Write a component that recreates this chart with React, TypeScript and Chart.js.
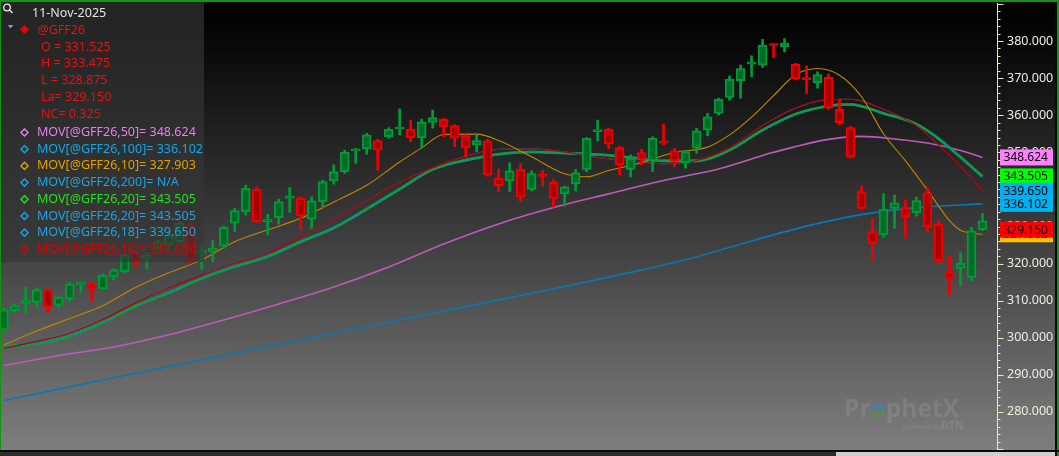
import React, { useEffect, useRef } from 'react';
import { Chart, registerables } from 'chart.js';
Chart.register(...registerables);

// ---- candle data (one per session, oldest first) ----
const opens = [302.1,307.3,309.3,309.5,312.9,308.8,310.4,314.4,314.7,313.2,316.5,317.8,323.0,321.4,324.1,325.0,325.9,330.4,323.0,323.2,324.7,330.9,334.0,340.1,331.3,332.4,337.6,337.6,332.0,336.7,342.3,344.8,350.4,350.9,353.2,354.2,356.3,356.3,353.9,358.1,358.9,357.2,354.5,352.0,353.1,343.0,342.3,345.4,340.0,343.8,341.9,338.8,341.5,345.4,355.6,356.2,351.3,345.4,349.9,347.7,352.7,350.4,347.2,351.1,356.0,360.5,364.8,369.3,373.8,373.5,379.0,378.5,373.8,370.0,368.8,370.2,361.6,356.7,339.4,328.6,327.7,334.9,335.1,333.7,339.1,330.7,317.8,318.7,316.3,331.525];
const highs = [308.0,309.1,313.6,313.3,313.1,311.3,314.9,314.7,314.9,317.2,318.6,322.7,323.5,323.0,326.3,328.0,331.3,330.9,325.0,326.2,330.1,334.9,341.2,340.7,333.3,337.4,340.5,338.0,338.0,342.5,346.6,350.6,351.1,355.1,353.5,356.7,361.7,358.7,359.0,361.4,359.2,357.5,354.8,354.7,353.5,345.5,347.2,347.0,345.0,345.0,342.7,340.9,345.4,354.0,358.7,356.5,351.6,349.3,350.8,354.2,357.6,351.1,350.4,356.5,360.5,364.6,370.6,373.5,376.0,380.5,379.4,380.7,374.0,373.3,371.7,371.1,364.3,357.0,340.9,332.2,338.9,338.5,337.1,337.9,340.3,331.6,322.0,322.9,329.7,333.475];
const lows = [301.5,306.8,306.6,308.4,306.8,308.0,310.0,312.2,310.0,313.1,315.6,317.5,319.0,318.7,323.6,324.5,325.5,320.2,318.5,320.5,324.1,328.6,333.1,331.1,327.7,330.6,333.8,329.1,329.5,335.1,341.4,344.3,347.0,349.5,345.2,353.8,354.7,352.9,351.2,356.5,354.2,351.5,348.8,350.2,343.6,339.4,339.4,336.7,339.6,340.9,335.2,335.5,339.6,344.8,353.1,351.0,343.9,343.4,346.6,344.8,352.0,346.1,345.7,349.7,354.4,360.0,364.1,364.6,370.4,372.9,375.6,377.1,369.5,365.9,367.3,361.6,357.4,348.5,334.6,320.8,327.1,329.5,327.1,332.8,328.6,320.2,311.5,314.0,315.4,328.875];
const closes = [307.5,308.6,310.2,312.9,308.4,310.9,314.5,314.6,313.1,316.8,318.3,322.3,320.5,322.3,325.9,327.7,330.9,321.0,323.5,324.1,329.8,334.3,340.3,331.3,331.6,336.7,337.9,332.9,336.9,342.1,344.8,350.0,350.8,354.7,350.6,356.2,356.7,353.9,358.2,359.4,356.9,353.8,351.2,353.2,343.9,341.0,345.0,337.9,344.3,343.5,337.6,340.7,344.5,353.8,356.0,352.2,346.6,348.4,348.1,353.8,352.5,347.7,350.2,355.8,359.6,364.3,369.7,372.6,374.2,378.9,378.8,379.4,369.8,369.6,371.0,361.9,358.0,348.8,334.9,325.5,334.6,336.4,332.6,337.0,329.9,320.8,316.0,320.1,328.825,329.15];

// ---- moving averages, read at sample sessions ----
const ma10Idx = [0,3,6,9,12,15,18,21,24,27,30,33,36,38,40,43,45,48,51,53,55,58,61,64,66,68,70,72,74,76,78,80,82,84,86,87,88,89];
const ma10Val = [298.1,301.8,305.2,308.6,313.6,317.5,321.0,325.9,329.1,332.2,336.6,341.1,347.4,351.2,354.8,354.9,353.2,348.8,344.2,343.4,345.1,347.2,350.0,351.4,354.7,359.5,365.3,370.9,372.6,370.8,365.0,355.0,347.7,339.8,331.6,329.0,328.2,327.903];
const ma18Idx = [0,3,6,9,12,15,18,21,24,27,30,33,36,39,42,45,48,51,54,57,60,63,66,69,72,75,77,80,83,85,87,89];
const ma18Val = [297.1,299.0,301.2,304.9,309.4,313.4,316.9,320.1,322.8,327.2,332.0,337.0,341.9,345.8,348.9,350.8,350.9,350.1,348.6,347.7,346.9,347.8,351.2,357.2,361.9,364.2,364.3,361.6,357.2,352.0,346.2,339.65];
const ma20Idx = [0,3,6,9,12,15,18,21,24,27,30,33,36,39,42,45,48,51,54,57,60,63,66,69,72,75,77,80,83,85,87,89];
const ma20Val = [297.7,298.3,300.5,304.1,308.6,312.1,316.0,319.2,321.9,325.9,329.6,334.7,340.1,345.4,347.9,349.5,350.1,349.8,349.4,348.6,347.7,347.7,350.6,356.0,360.3,362.5,362.9,360.5,357.6,353.7,348.7,343.505];
const ma50Idx = [0,5,10,15,20,25,30,35,40,45,50,55,60,65,70,75,78,81,84,87,89];
const ma50Val = [292.5,295.2,297.5,300.8,304.8,309.1,313.7,319.1,325.3,330.7,335.1,338.8,342.4,345.5,350.0,353.5,354.3,353.6,352.5,350.5,348.624];
const ma100Idx = [0,10,20,30,40,50,58,63,68,73,78,83,89];
const ma100Val = [283.1,289.2,295.2,301.3,307.2,313.2,318.3,321.8,326.1,330.1,333.2,335.1,336.102];

// ---- text ----
const dateLabel = '11-Nov-2025';
const symbolLabel = '@GFF26';
const quoteLabels = ['O = 331.525', 'H = 333.475', 'L = 328.875', 'La= 329.150', 'NC= 0.325'];
const studyLabels = [
  'MOV[@GFF26,50]= 348.624',
  'MOV[@GFF26,100]= 336.102',
  'MOV[@GFF26,10]= 327.903',
  'MOV[@GFF26,200]= N/A',
  'MOV[@GFF26,20]= 343.505',
  'MOV[@GFF26,20]= 343.505',
  'MOV[@GFF26,18]= 339.650',
  'MOV[@GFF26,18]= 339.650',
];
const studyColors = ['#e87ef0', '#14a6e6', '#e0a000', '#14a6e6', '#22e022', '#14a6e6', '#14a6e6', '#e00000'];
const tagValues = [348.624, 343.505, 339.650, 336.102, 327.903, 329.150];
const tagTexts = ['348.624', '343.505', '339.650', '336.102', '327.902', '329.150'];
const tagColors = ['#ff80ff', '#00ff00', '#00b0f0', '#00b0f0', '#ffc000', '#ff0000'];
const yMin = 270;
const yMax = 390;

const UP_EDGE = '#009b38';
const UP_FILL = '#006a26';
const DN_EDGE = '#f20000';
const DN_FILL = '#a60000';

const FONT = '"Noto Sans", sans-serif';

const sessions = opens.map((_, i) => i);
const up = closes.map((c, i) => (i === 0 ? c >= opens[0] : c >= closes[i - 1]));
const pts = (xs: number[], ys: number[]) => xs.map((x, k) => ({ x, y: ys[k] }));

// fit a font so that a reference string takes a given width
const fitFont = (ctx: any, family: string, sample: string, width: number, weight = '') => {
  ctx.font = `${weight} 100px ${family}`;
  const w = ctx.measureText(sample).width;
  const size = (100 * width) / w;
  return `${weight} ${size.toFixed(2)}px ${family}`;
};

const scenePlugin = {
  id: 'scene',
  beforeDraw(chart: any) {
    const { ctx, width, height } = chart;
    ctx.save();
    const g = ctx.createLinearGradient(0, 0, 0, 450);
    g.addColorStop(0, '#000000');
    g.addColorStop(0.1, '#080808');
    g.addColorStop(0.5, '#3a3a3a');
    g.addColorStop(1, '#7e7e7e');
    ctx.fillStyle = g;
    ctx.fillRect(0, 0, width, height);
    ctx.restore();
  },
  beforeDatasetsDraw(chart: any) {
    const { ctx } = chart;
    ctx.save();
    ctx.textBaseline = 'alphabetic';
    ctx.font = fitFont(ctx, '"Open Sans", sans-serif', 'ProphetX', 115, 'bold');
    ctx.fillStyle = 'rgba(255,255,255,0.10)';
    let x = 844;
    const base = 417;
    ctx.fillText('Pr', x, base);
    x += ctx.measureText('Pr').width;
    const ow = ctx.measureText('o').width;
    const cx = x + ow / 2, cy = base - 6.5, r = 5.2;
    ctx.lineWidth = 3.4;
    ctx.strokeStyle = 'rgba(60,130,185,0.75)';
    ctx.beginPath(); ctx.arc(cx, cy, r, Math.PI, 2 * Math.PI); ctx.stroke();
    ctx.strokeStyle = 'rgba(80,150,70,0.75)';
    ctx.beginPath(); ctx.arc(cx, cy, r, 0, Math.PI); ctx.stroke();
    x += ow;
    ctx.fillText('phetX', x, base);
    ctx.font = '7px ' + FONT;
    ctx.fillStyle = 'rgba(255,255,255,0.10)';
    ctx.fillText('powered by', 903, 429);
    ctx.font = 'bold 11px ' + FONT;
    ctx.fillText('DTN', 941, 429);
    ctx.restore();
  },
  afterDraw(chart: any) {
    const { ctx, chartArea } = chart;
    const yS = chart.scales.y;
    ctx.save();

    // legend panel
    ctx.fillStyle = 'rgba(54,54,54,0.67)';
    ctx.fillRect(0, 0, 204, 262);

    // magnifier icon
    ctx.strokeStyle = '#f0f0f0';
    ctx.lineWidth = 1.3;
    ctx.beginPath(); ctx.arc(7, 7.5, 3.3, 0, Math.PI * 2); ctx.stroke();
    ctx.beginPath(); ctx.moveTo(9.5, 10); ctx.lineTo(12.5, 13); ctx.stroke();

    ctx.textBaseline = 'middle';
    const legendFont = fitFont(ctx, FONT, studyLabels[1], 166);
    ctx.font = legendFont;
    ctx.fillStyle = '#e4e4dc';
    ctx.fillText(dateLabel, 32, 13);

    // collapse triangle
    ctx.fillStyle = '#8484ff';
    ctx.beginPath(); ctx.moveTo(7.5, 25); ctx.lineTo(13.5, 25); ctx.lineTo(10.5, 28.5); ctx.closePath(); ctx.fill();
    // symbol diamond
    ctx.fillStyle = '#ee0000';
    ctx.beginPath(); ctx.moveTo(24.5, 25); ctx.lineTo(29, 29.5); ctx.lineTo(24.5, 34); ctx.lineTo(20, 29.5); ctx.closePath(); ctx.fill();
    ctx.fillStyle = '#e21414';
    ctx.fillText(symbolLabel, 37.5, 30);
    quoteLabels.forEach((t, k) => ctx.fillText(t, 41, 47 + k * 16.8));

    studyLabels.forEach((t, k) => {
      const yy = 132.5 + k * 16.7;
      ctx.strokeStyle = studyColors[k];
      ctx.lineWidth = 1.4;
      ctx.beginPath();
      ctx.moveTo(24.5, yy - 3.6); ctx.lineTo(28.1, yy); ctx.lineTo(24.5, yy + 3.6); ctx.lineTo(20.9, yy); ctx.closePath();
      ctx.stroke();
      ctx.fillStyle = studyColors[k];
      ctx.fillText(t, 37, yy);
    });

    // price axis line and ticks
    const ax = Math.round(chartArea.right) + 0.5;
    ctx.strokeStyle = '#f3e6b8';
    ctx.lineWidth = 1;
    ctx.beginPath(); ctx.moveTo(ax, 3); ctx.lineTo(ax, 450); ctx.stroke();
    yS.ticks.forEach((t: any) => {
      const py = Math.round(yS.getPixelForValue(t.value)) + 0.5;
      const len = t.value % 10 === 0 ? 6 : 3;
      ctx.beginPath(); ctx.moveTo(ax, py); ctx.lineTo(ax + len, py); ctx.stroke();
    });

    // value tags
    ctx.font = fitFont(ctx, FONT, '348.624', 44.5);
    tagValues.forEach((v, k) => {
      const py = yS.getPixelForValue(v);
      ctx.fillStyle = tagColors[k];
      ctx.fillRect(ax + 2.5, py - 8, 53, 16);
      ctx.fillStyle = '#000000';
      ctx.fillText(tagTexts[k], ax + 6, py + 0.5);
    });

    // frame
    ctx.fillStyle = '#149414';
    ctx.fillRect(0, 0, 1059, 2);
    ctx.fillRect(0, 0, 1, 450);
    ctx.fillRect(1057, 0, 2, 456);
    ctx.fillStyle = '#0a0a0a';
    ctx.fillRect(1055, 2, 2, 454);
    ctx.fillRect(0, 450, 1059, 2);
    ctx.fillStyle = '#2c2c2c';
    ctx.fillRect(0, 452, 836, 4);
    ctx.fillStyle = '#cfcfcf';
    ctx.fillRect(836, 452, 219, 4);
    ctx.restore();
  },
};

export default function App() {
  const ref = useRef<HTMLCanvasElement | null>(null);
  useEffect(() => {
    if (!ref.current) return;
    const line = (data: any[], color: string, width: number, order: number, dash: number[] = []) => ({
      type: 'line',
      data,
      borderColor: color,
      borderWidth: width,
      borderDash: dash,
      pointRadius: 0,
      cubicInterpolationMode: 'monotone',
      fill: false,
      order,
    });
    const chart = new Chart(ref.current, {
      type: 'bar',
      data: {
        datasets: [
          line(pts(ma100Idx, ma100Val), '#0b76b6', 1.6, 6),
          line(pts(ma50Idx, ma50Val), '#bb5cbb', 1.6, 6),
          line(pts(ma20Idx, ma20Val), '#1a86c8', 2.6, 5),
          line(pts(ma18Idx, ma18Val), '#1a86c8', 1, 5),
          line(pts(ma18Idx, ma18Val), '#b00000', 1.2, 4),
          line(pts(ma20Idx, ma20Val), '#06a606', 2.6, 4, [3, 2]),
          line(pts(ma10Idx, ma10Val), '#c28600', 1.1, 3),
          {
            type: 'bar',
            data: sessions.map((i) => ({ x: i, y: [lows[i], highs[i]] })),
            backgroundColor: sessions.map((i) => (up[i] ? UP_EDGE : DN_EDGE)),
            borderWidth: 0,
            barThickness: 2,
            grouped: false,
            order: 1,
          },
          {
            type: 'bar',
            data: sessions.map((i) => ({ x: i, y: [Math.min(opens[i], closes[i]), Math.max(opens[i], closes[i])] })),
            backgroundColor: sessions.map((i) => (up[i] ? UP_FILL : DN_FILL)),
            borderColor: sessions.map((i) => (up[i] ? UP_EDGE : DN_EDGE)),
            borderWidth: 2,
            borderSkipped: false,
            barThickness: 9,
            minBarLength: 2,
            grouped: false,
            order: 0,
          },
        ] as any,
      },
      options: {
        animation: false,
        responsive: false,
        devicePixelRatio: 1,
        events: [],
        layout: { padding: { left: 0, right: 0, top: 4, bottom: 7 } },
        plugins: { legend: { display: false }, tooltip: { enabled: false } },
        scales: {
          x: {
            type: 'linear',
            min: -0.227,
            max: 90.32,
            offset: false,
            display: false,
          },
          y: {
            position: 'right',
            min: yMin,
            max: yMax,
            afterFit: (s: any) => { s.width = 62; s.paddingTop = 0; s.paddingBottom = 0; },
            grid: { display: false, drawTicks: false },
            border: { display: false },
            ticks: {
              stepSize: 2,
              autoSkip: false,
              padding: 10,
              color: '#f0ecdf',
              font: { family: FONT, size: 12.5 },
              callback: (v: any) => (v % 10 === 0 && v > yMin && v < yMax ? Number(v).toFixed(3) : ''),
            },
          },
        },
      } as any,
      plugins: [scenePlugin],
    });
    let alive = true;
    const fonts: any = (document as any).fonts;
    if (fonts && fonts.load) {
      Promise.all([
        fonts.load('13px "Noto Sans"'),
        fonts.load('bold 25px "Open Sans"'),
      ]).then(() => { if (alive) chart.update(); }).catch(() => {});
    }
    return () => { alive = false; chart.destroy(); };
  }, []);
  return (
    <div style={{ position: 'fixed', left: 0, top: 0, width: 1059, height: 456, background: '#000' }}>
      <canvas ref={ref} width={1059} height={456} style={{ display: 'block' }} />
    </div>
  );
}
